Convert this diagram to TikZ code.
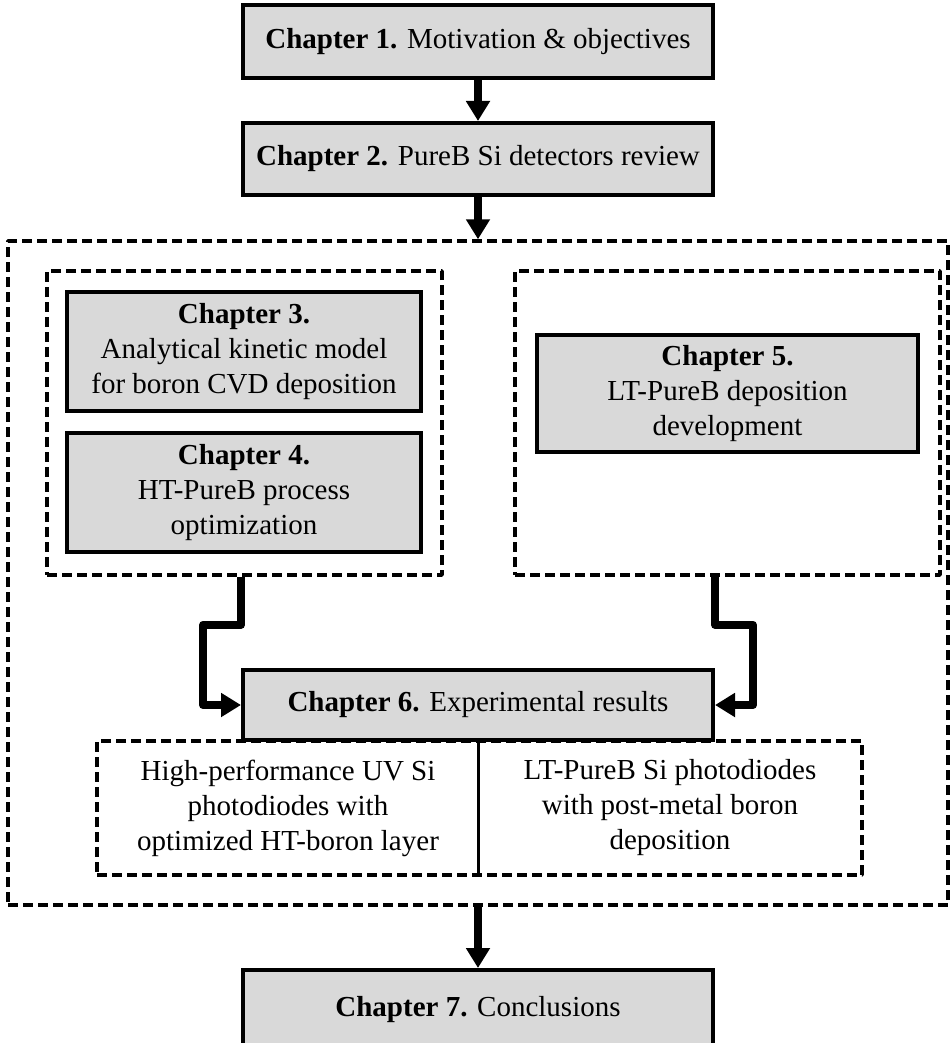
\documentclass[tikz,border=0pt]{standalone}
\usepackage{fontspec}
\setmainfont{Liberation Serif}
\usetikzlibrary{positioning,arrows.meta,calc}
\definecolor{boxgray}{HTML}{D9D9D9}

\tikzset{
  chap/.style={draw=black,fill=boxgray,line width=4pt,align=center,inner sep=0pt},
  grp/.style={draw=black,dash pattern=on 10pt off 5pt,line width=3.5pt,line join=round,inner sep=0pt},
  flow/.style={-{Triangle[width=23pt,length=20pt]},line width=8pt,line join=round},
}

\begin{document}
\begin{tikzpicture}[x=1pt,y=-1pt,font=\fontsize{29}{35}\selectfont]
\clip (0,0) rectangle (950,1043);
% groups
\node[grp,minimum width=940pt,minimum height=664pt] (outer) at (478,573) {};
\node[grp,minimum width=395pt,minimum height=304pt] (lg) at (244.5,423) {};
\node[grp,minimum width=425pt,minimum height=304pt] (rg) at (727.5,423) {};
\node[grp,minimum width=765pt,minimum height=134pt] (res) at (479.5,808) {};
% chapters
\node[chap,minimum width=470pt,minimum height=73pt] (c1) at (478,42) {\textbf{Chapter 1.} Motivation \& objectives};
\node[chap,minimum width=470pt,minimum height=72pt] (c2) at (478,159) {\textbf{Chapter 2.} PureB Si detectors review};
\node[chap,minimum width=354pt,minimum height=119pt] (c3) at (244,351.5) {\textbf{Chapter 3.}\\Analytical kinetic model\\for boron CVD deposition};
\node[chap,minimum width=354pt,minimum height=119pt] (c4) at (244,492.5) {\textbf{Chapter 4.}\\HT-PureB process\\optimization};
\node[chap,minimum width=381pt,minimum height=117pt] (c5) at (727.5,393.5) {\textbf{Chapter 5.}\\LT-PureB deposition\\development};
\node[chap,minimum width=470pt,minimum height=70pt] (c6) at (478,705) {\textbf{Chapter 6.} Experimental results};
\node[chap,minimum width=470pt,minimum height=80pt] (c7) at (478,1010) {\textbf{Chapter 7.} Conclusions};
% results
\node[align=center] (r1) at (288,808) {High-performance UV Si\\photodiodes with\\optimized HT-boron layer};
\node[align=center] (r2) at (670,808) {LT-PureB Si photodiodes\\with post-metal boron\\deposition};
\draw[line width=3pt] (c6.south) -- (c6.south |- res.south);
% arrows
\draw[flow] (c1) -- (c2);
\draw[flow] (c2) -- (outer.north);
\draw[flow] (c6.west |- lg.south) -- ++(0,48) -| ([xshift=-38pt]c6.west) -- (c6.west);
\draw[flow] (c6.east |- rg.south) -- ++(0,48) -| ([xshift=38pt]c6.east) -- (c6.east);
\draw[flow] (outer.south) -- (c7.north);
\end{tikzpicture}
\end{document}
